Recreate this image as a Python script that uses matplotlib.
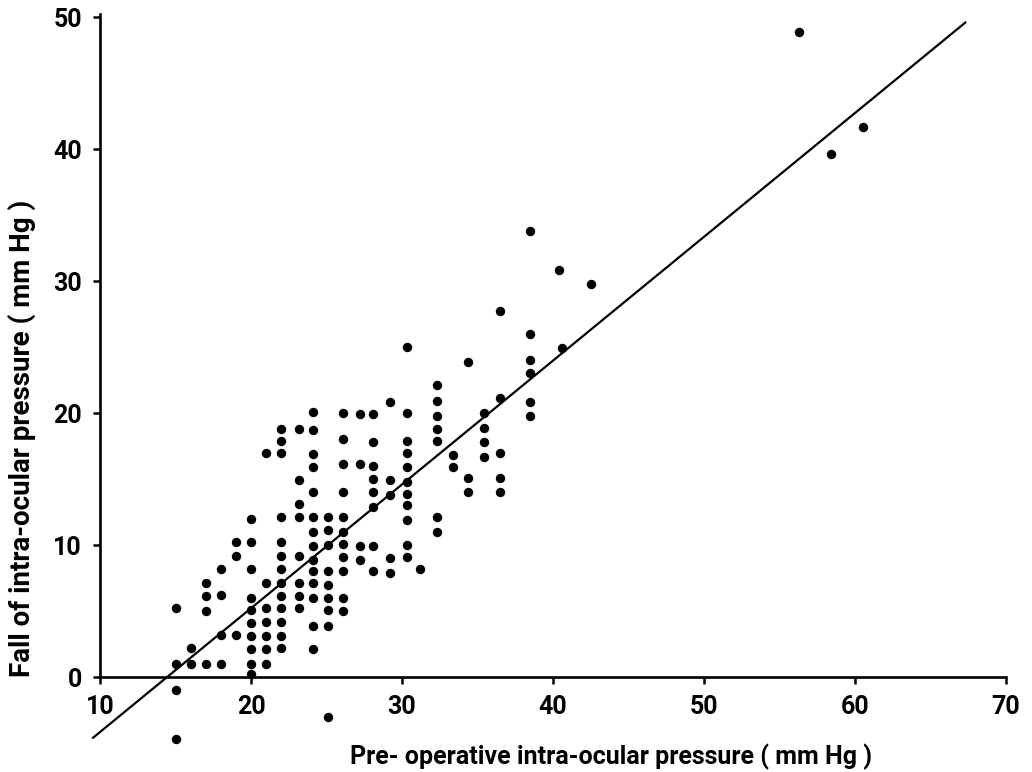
import matplotlib
matplotlib.use("Agg")
import matplotlib.pyplot as plt

plt.rcParams['font.family'] = ['Roboto', 'DejaVu Sans']

# pre-operative pressure (column) and the falls recorded at it, mm Hg
col_pre = [15, 16, 17, 18, 19, 20, 21, 22, 23.2, 24.1, 25.1, 26.1, 27.2,
           28.1, 29.2, 30.3, 31.2, 32.3, 33.4, 34.4, 35.4, 36.5, 38.5,
           40.4, 40.6, 42.5, 56.3, 58.4, 60.5]
col_fall = [
    [5.2, 1.0, -1.0, -4.7],
    [2.2, 1.0],
    [7.1, 6.1, 5.0, 1.0],
    [8.2, 6.2, 3.2, 1.0],
    [10.2, 9.2, 3.2],
    [12.0, 10.2, 8.2, 6.0, 5.1, 4.1, 3.1, 2.1, 1.0, 0.2],
    [17.0, 7.1, 5.2, 4.2, 3.1, 2.1, 1.0],
    [18.8, 17.9, 17.0, 12.1, 10.2, 9.2, 8.2, 7.1, 6.1, 5.2, 4.2, 3.1, 2.2],
    [18.8, 14.9, 13.1, 12.1, 9.2, 7.1, 6.1, 5.2],
    [20.1, 18.7, 16.9, 15.9, 14.0, 12.1, 11.0, 9.9, 8.9, 8.0, 7.1, 6.0, 3.9, 2.1],
    [12.1, 11.1, 10.0, 8.0, 7.0, 6.0, 5.1, 3.9, -3.0],
    [20.0, 18.0, 16.1, 14.0, 12.1, 11.0, 10.1, 9.1, 8.0, 6.0, 5.0],
    [19.9, 16.1, 9.9, 8.9],
    [19.9, 17.8, 16.0, 15.0, 14.0, 12.9, 9.9, 8.0],
    [20.8, 14.9, 13.8, 9.0, 7.9],
    [25.0, 20.0, 17.9, 17.0, 15.9, 14.8, 13.9, 13.0, 11.9, 10.0, 9.1],
    [8.2],
    [22.1, 20.9, 19.8, 18.8, 17.9, 12.1, 11.0],
    [16.8, 15.9],
    [23.9, 15.1, 14.0],
    [20.0, 18.9, 17.8, 16.7],
    [27.7, 21.1, 17.0, 15.1, 14.0],
    [33.8, 26.0, 24.0, 23.0, 20.8, 19.8],
    [30.8],
    [24.9],
    [29.8],
    [48.9],
    [39.6],
    [41.7],
]

# regression line
slope = 0.938
intercept = -13.55
fit_range = [9.54, 67.3]

xticks = [10, 20, 30, 40, 50, 60, 70]
yticks = [0, 10, 20, 30, 40, 50]

pre_op = [x for x, ys in zip(col_pre, col_fall) for _ in ys]
fall = [y for ys in col_fall for y in ys]

fig = plt.figure(figsize=(10.32, 7.72), dpi=100)
ax = fig.add_axes([0, 0, 1, 1])
ax.set_xlim(3.377, 71.72)
ax.set_ylim(-7.197, 51.29)

ax.scatter(pre_op, fall, s=46, color='black', linewidths=0, zorder=3)
fx = fit_range
fy = [slope * v + intercept for v in fx]
ax.plot(fx, fy, color='black', lw=1.6, zorder=2)

for side in ['top', 'right']:
    ax.spines[side].set_visible(False)
ax.spines['left'].set_position(('data', 10))
ax.spines['left'].set_bounds(0, 50.2)
ax.spines['bottom'].set_position(('data', 0))
ax.spines['bottom'].set_bounds(10, 70)
for side in ['left', 'bottom']:
    ax.spines[side].set_linewidth(1.9)

ax.set_xticks(xticks)
ax.set_yticks(yticks)
ax.tick_params(axis='both', direction='out', length=5, width=1.8,
               labelsize=18, pad=8)

ax.set_xlabel('Pre- operative intra-ocular pressure ( mm Hg )', fontsize=18,
              fontweight='bold', va='center')
ax.xaxis.set_label_coords(611 / 1032, 1 - 757 / 772)
ax.set_ylabel('Fall of intra-ocular pressure ( mm Hg )', fontsize=20,
              fontweight='bold', va='center')
ax.yaxis.set_label_coords(22 / 1032, 1 - 438 / 772)

for lab in ax.get_xticklabels() + ax.get_yticklabels():
    lab.set_fontweight('bold')

fig.savefig('out.png', dpi=100)
